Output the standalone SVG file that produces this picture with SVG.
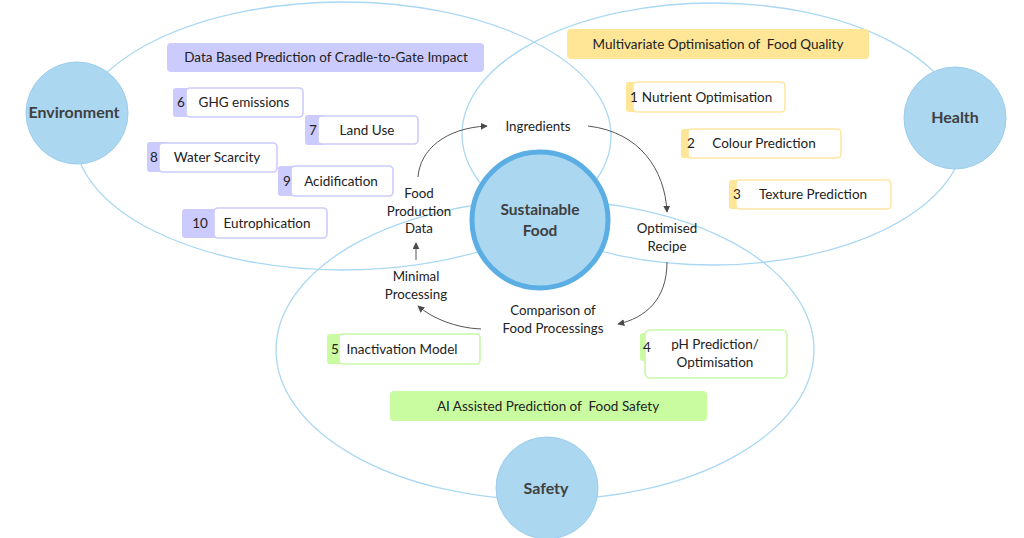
<svg xmlns="http://www.w3.org/2000/svg" width="1024" height="538" viewBox="0 0 1024 538">
<defs>
<marker id="ah" viewBox="0 0 10 10" refX="9" refY="5" markerWidth="7" markerHeight="7" markerUnits="userSpaceOnUse" orient="auto">
<path d="M0,0 L10,5 L0,10 z" fill="#4a4a4a"/>
</marker>
<style>
.bound{fill:none;stroke:#aad8f3;stroke-width:1.3}
.pillar{fill:#abd7f1;stroke:#9ccdee;stroke-width:1}
.core{fill:#abd7f1;stroke:#5aaee3;stroke-width:5}
.big{font-family:Lato,"Open Sans",sans-serif;font-weight:bold;fill:#404040;text-anchor:middle}
.t{font-family:Lato,"Open Sans",sans-serif;font-size:13.5px;fill:#222;text-anchor:middle}
.lbl{font-family:Lato,"Open Sans",sans-serif;font-size:13.3px;fill:#222;text-anchor:middle}
.arr{fill:none;stroke:#555;stroke-width:1;marker-end:url(#ah)}
.pTab{fill:#cccbfe}
.pBox{fill:#fff;stroke:#cccbfe;stroke-width:1.6}
.yTab{fill:#ffe596}
.yBox{fill:#fff;stroke:#ffe6a3;stroke-width:1.6}
.gTab{fill:#c9fca1}
.gBox{fill:#fff;stroke:#c9f7aa;stroke-width:1.6}
</style>
</defs>
<rect width="1024" height="538" fill="#fff"/>

<g id="boundaries">
<ellipse class="bound" cx="343" cy="136" rx="268" ry="134"/>
<ellipse class="bound" cx="713" cy="134" rx="251" ry="131"/>
<ellipse class="bound" cx="545" cy="350" rx="269" ry="150"/>
</g>

<g id="environment">
<circle class="pillar" cx="77" cy="113" r="51"/>
<text class="big" x="74" y="118" font-size="16">Environment</text>
</g>
<g id="health">
<circle class="pillar" cx="955" cy="118" r="51"/>
<text class="big" x="955" y="122.5" font-size="16">Health</text>
</g>
<g id="safety">
<circle class="pillar" cx="547" cy="488" r="51"/>
<text class="big" x="546" y="494" font-size="16">Safety</text>
</g>
<g id="sustainable-food">
<circle class="core" cx="540" cy="220" r="68"/>
<text class="big" x="540" y="215" font-size="15.5">Sustainable</text>
<text class="big" x="540" y="236" font-size="15.5">Food</text>
</g>

<g id="env-header">
<rect x="167" y="43" width="317" height="29" rx="4" fill="#cccbfe"/>
<text class="t" x="326" y="62">Data Based Prediction of Cradle-to-Gate Impact</text>
</g>
<g id="n6">
<rect class="pTab" x="173" y="88" width="22" height="29" rx="3"/>
<rect class="pBox" x="186" y="88" width="117" height="29" rx="4"/>
<text class="t" x="181" y="107">6</text>
<text class="t" x="244" y="107">GHG emissions</text>
</g>
<g id="n7">
<rect class="pTab" x="305" y="115" width="22" height="30" rx="3"/>
<rect class="pBox" x="318" y="116" width="100" height="28" rx="4"/>
<text class="t" x="313" y="135">7</text>
<text class="t" x="367" y="135">Land Use</text>
</g>
<g id="n8">
<rect class="pTab" x="147" y="142" width="22" height="30" rx="3"/>
<rect class="pBox" x="159" y="143" width="118" height="29" rx="4"/>
<text class="t" x="154" y="162">8</text>
<text class="t" x="217" y="162">Water Scarcity</text>
</g>
<g id="n9">
<rect class="pTab" x="278" y="166" width="22" height="30" rx="3"/>
<rect class="pBox" x="291" y="166" width="102" height="30" rx="4"/>
<text class="t" x="287" y="186">9</text>
<text class="t" x="341" y="186">Acidification</text>
</g>
<g id="n10">
<rect class="pTab" x="182" y="209" width="40" height="29" rx="3"/>
<rect class="pBox" x="214" y="208" width="113" height="30" rx="4"/>
<text class="t" x="200" y="228">10</text>
<text class="t" x="267" y="228">Eutrophication</text>
</g>

<g id="health-header">
<rect x="567" y="29" width="302" height="30" rx="4" fill="#ffe596"/>
<text class="t" x="718" y="48.5" xml:space="preserve">Multivariate Optimisation of  Food Quality</text>
</g>
<g id="n1">
<rect class="yTab" x="626" y="82" width="20" height="30" rx="3"/>
<rect class="yBox" x="633" y="82" width="152" height="30" rx="4"/>
<text class="t" x="634" y="102">1</text>
<text class="t" x="707" y="102">Nutrient Optimisation</text>
</g>
<g id="n2">
<rect class="yTab" x="681" y="129" width="22" height="29" rx="3"/>
<rect class="yBox" x="688" y="129" width="153" height="29" rx="4"/>
<text class="t" x="691" y="148">2</text>
<text class="t" x="764" y="148">Colour Prediction</text>
</g>
<g id="n3">
<rect class="yTab" x="729" y="180" width="22" height="29" rx="3"/>
<rect class="yBox" x="736" y="180" width="155" height="29" rx="4"/>
<text class="t" x="737" y="199">3</text>
<text class="t" x="813" y="199">Texture Prediction</text>
</g>

<g id="safety-header">
<rect x="390" y="391" width="317" height="30" rx="4" fill="#c9fca1"/>
<text class="t" x="548" y="410.5" xml:space="preserve">AI Assisted Prediction of  Food Safety</text>
</g>
<g id="n5">
<rect class="gTab" x="327" y="334" width="20" height="30" rx="3"/>
<rect class="gBox" x="339" y="334" width="141" height="30" rx="4"/>
<text class="t" x="335" y="354">5</text>
<text class="t" x="402" y="354">Inactivation Model</text>
</g>
<g id="n4">
<rect class="gTab" x="640" y="333" width="16" height="28" rx="3"/>
<rect class="gBox" x="645" y="330" width="142" height="48" rx="5"/>
<text class="t" x="647" y="352">4</text>
<text class="t" x="715" y="349">pH Prediction/</text>
<text class="t" x="715" y="367">Optimisation</text>
</g>

<g id="cycle-labels">
<text class="lbl" x="538" y="130.5">Ingredients</text>
<text class="lbl" x="667" y="233">Optimised</text>
<text class="lbl" x="667" y="250.5">Recipe</text>
<text class="lbl" x="553" y="315">Comparison of</text>
<text class="lbl" x="553" y="332.5">Food Processings</text>
<text class="lbl" x="416" y="281">Minimal</text>
<text class="lbl" x="416" y="298.5">Processing</text>
<text class="lbl" x="419" y="198">Food</text>
<text class="lbl" x="419" y="215.5">Production</text>
<text class="lbl" x="419" y="233">Data</text>
</g>

<g id="connectors">
<path class="arr" d="M418,177 C420,150 445,128 487,126"/>
<path class="arr" d="M588,126 C640,132 665,170 667,212"/>
<path class="arr" d="M667,262 C667,300 645,318 618,324"/>
<path class="arr" d="M481,329 C455,328 432,318 418,306"/>
<path class="arr" d="M416,260 L416,243"/>
</g>
</svg>
